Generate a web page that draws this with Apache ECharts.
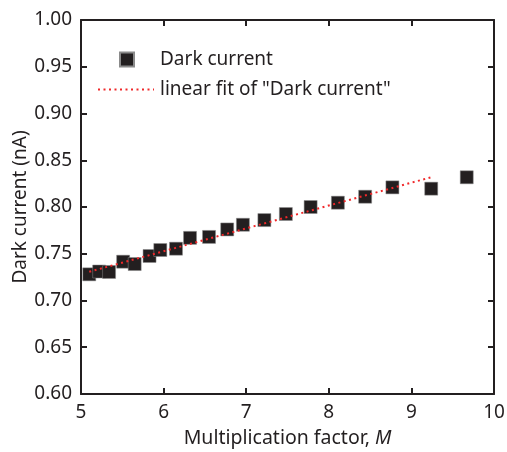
<!DOCTYPE html>
<html>
<head>
<meta charset="utf-8">
<script src="https://cdn.jsdelivr.net/npm/echarts@6/dist/echarts.min.js"></script>
<style>
  html, body { margin: 0; padding: 0; background: #fff; }
  #chart { width: 507px; height: 452px; }
</style>
</head>
<body>
<div id="chart"></div>
<script>
// 数据：倍增因子 M 与暗电流
var factorM = [5.10, 5.22, 5.34, 5.51, 5.65, 5.83, 5.96, 6.15, 6.32, 6.55,
               6.77, 6.96, 7.22, 7.48, 7.78, 8.11, 8.44, 8.77, 9.24, 9.67];
var darkCurrent = [0.728, 0.731, 0.7305, 0.7415, 0.739, 0.7476, 0.754, 0.7554, 0.767, 0.768,
                   0.776, 0.781, 0.786, 0.7925, 0.800, 0.8046, 0.811, 0.821, 0.8196, 0.8318];
// 线性拟合端点
var fitM = [5.10, 9.23];
var fitCurrent = [0.7307, 0.8316];

var ink = '#231f20';
var red = '#f0282a';
var font = 'Noto Sans';

function pairs(xs, ys) {
  return xs.map(function (x, i) { return [x, ys[i]]; });
}

var chart = echarts.init(document.getElementById('chart'));
chart.setOption({
  animation: false,
  textStyle: { fontFamily: font, color: ink },
  grid: { left: 81, right: 13, top: 20, bottom: 58, outerBoundsMode: 'none', containLabel: false },
  legend: [
    {
      left: 119,
      top: 50,
      padding: 0,
      itemWidth: 14,
      itemHeight: 14,
      icon: 'rect',
      textStyle: { fontFamily: font, fontSize: 19, color: ink, padding: [0, 0, 0, 21] },
      data: ['Dark current']
    },
    {
      left: 97,
      top: 80,
      padding: 0,
      itemWidth: 56,
      itemHeight: 14,
      itemStyle: { opacity: 0 },
      textStyle: { fontFamily: font, fontSize: 19, color: ink, padding: [0, 0, 0, 1] },
      data: ['linear fit of "Dark current"']
    }
  ],
  xAxis: [
    {
      type: 'value',
      min: 5, max: 10, interval: 1,
      name: 'Multiplication factor, {i|M}',
      nameLocation: 'middle',
      nameGap: 34,
      nameTextStyle: {
        fontFamily: font, fontSize: 19.5, color: ink,
        rich: { i: { fontFamily: font, fontSize: 19.5, fontStyle: 'italic', color: ink } }
      },
      axisLine: { lineStyle: { color: ink, width: 2 } },
      axisTick: { inside: true, length: 6, lineStyle: { color: ink, width: 2 } },
      axisLabel: { fontFamily: font, fontSize: 19, color: ink, margin: 9 },
      splitLine: { show: false }
    },
    {
      type: 'value', position: 'top',
      min: 5, max: 10, interval: 1,
      axisLine: { lineStyle: { color: ink, width: 2 } },
      axisTick: { inside: true, length: 6, lineStyle: { color: ink, width: 2 } },
      axisLabel: { show: false },
      splitLine: { show: false }
    }
  ],
  yAxis: [
    {
      type: 'value',
      min: 0.6, max: 1.0, interval: 0.05,
      name: 'Dark current (nA)',
      nameLocation: 'middle',
      nameGap: 51,
      nameMoveOverlap: false,
      nameTextStyle: { fontFamily: font, fontSize: 19, color: ink },
      axisLine: { lineStyle: { color: ink, width: 2 } },
      axisTick: { inside: true, length: 6, lineStyle: { color: ink, width: 2 } },
      axisLabel: {
        fontFamily: font, fontSize: 19, color: ink, margin: 9,
        formatter: function (v) { return v.toFixed(2); }
      },
      splitLine: { show: false }
    },
    {
      type: 'value', position: 'right',
      min: 0.6, max: 1.0, interval: 0.05,
      axisLine: { lineStyle: { color: ink, width: 2 } },
      axisTick: { inside: true, length: 6, lineStyle: { color: ink, width: 2 } },
      axisLabel: { show: false },
      splitLine: { show: false }
    }
  ],
  series: [
    {
      name: 'Dark current',
      type: 'scatter',
      symbol: 'rect',
      symbolSize: 13,
      itemStyle: { color: ink, opacity: 1, borderColor: '#8a8a8a', borderWidth: 0.5 },
      data: pairs(factorM, darkCurrent),
      z: 2
    },
    {
      name: 'linear fit of "Dark current"',
      type: 'line',
      symbol: 'none',
      lineStyle: { color: red, width: 2, type: [2, 3.5] },
      itemStyle: { color: red },
      data: pairs(fitM, fitCurrent),
      z: 3
    }
  ]
});
</script>
</body>
</html>
